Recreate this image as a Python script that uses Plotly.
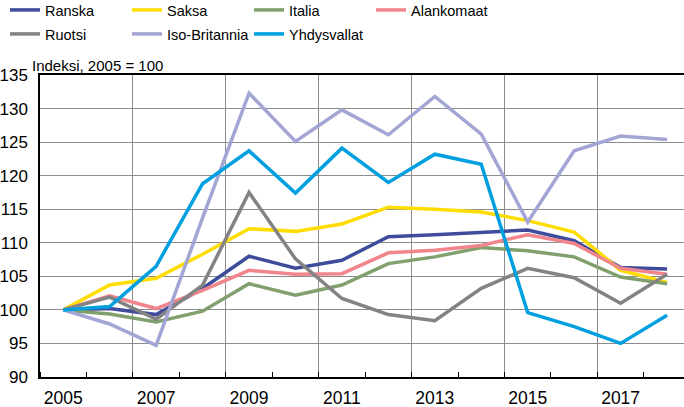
import plotly.graph_objects as go

years = list(range(2005, 2019))
ranska = [100, 100.2, 99.3, 103.2, 108.0, 106.2, 107.4, 110.9, 111.2, 111.6, 111.9, 110.3, 106.3, 106.1]
saksa = [100, 103.7, 104.7, 108.3, 112.1, 111.7, 112.8, 115.3, 115.0, 114.6, 113.3, 111.6, 105.9, 104.1]
italia = [100, 99.4, 98.2, 99.8, 103.9, 102.2, 103.7, 106.9, 107.9, 109.3, 108.8, 107.9, 104.9, 103.9]
alankomaat = [100, 102.1, 100.2, 102.9, 105.9, 105.3, 105.4, 108.5, 108.9, 109.6, 111.2, 109.9, 106.2, 105.3]
ruotsi = [100, 101.9, 98.6, 103.7, 117.5, 107.6, 101.7, 99.3, 98.4, 103.2, 106.2, 104.8, 101.0, 105.3]
iso_britannia = [100, 97.9, 94.7, 113.7, 132.3, 125.1, 129.8, 126.1, 131.8, 126.2, 113.1, 123.7, 125.9, 125.4]
yhdysvallat = [100, 100.5, 106.5, 118.8, 123.7, 117.4, 124.1, 119.0, 123.2, 121.7, 99.6, 97.5, 95.0, 99.2]

series = [
    ("Ranska", ranska, "#3f4c9c", "legend"),
    ("Saksa", saksa, "#ffdd00", "legend"),
    ("Italia", italia, "#82a06e", "legend"),
    ("Alankomaat", alankomaat, "#f0868c", "legend"),
    ("Ruotsi", ruotsi, "#838383", "legend2"),
    ("Iso-Britannia", iso_britannia, "#a3a6d4", "legend2"),
    ("Yhdysvallat", yhdysvallat, "#00a0e0", "legend2"),
]

label_years = [2005, 2007, 2009, 2011, 2013, 2015, 2017]
grid_x = [2006.5, 2008.5, 2010.5, 2012.5, 2014.5, 2016.5]
minor_x = [y + 0.5 for y in range(2004, 2019)]
y_ticks = list(range(90, 136, 5))

REG = "Liberation Sans, Arial, sans-serif"

L, T, PW, PH = 40, 75, 644, 302
B = 407 - T - PH
R = 684 - L - PW


def px(fx):
    return (fx - L) / PW


def py(fy):
    return (T + PH - fy) / PH


fig = go.Figure()
fig.add_trace(go.Scatter(x=[2005], y=[None], xaxis="x2", showlegend=False, hoverinfo="skip"))
for name, vals, col, lg in series:
    fig.add_trace(go.Scatter(x=years, y=vals, name=name, mode="lines",
                             line=dict(color=col, width=3.5), legend=lg))

xr = [2004.5, 2004.5 + PW / 46.45]
leg_common = dict(orientation="h", entrywidth=77, entrywidthmode="pixels",
                  xanchor="left", yanchor="top", bgcolor="rgba(0,0,0,0)",
                  font=dict(family=REG, size=14.5, color="#000"),
                  itemwidth=30, tracegroupgap=0, borderwidth=0)

fig.update_layout(
    width=684, height=407,
    margin=dict(l=L, r=R, t=T, b=B, autoexpand=False),
    paper_bgcolor="white", plot_bgcolor="white",
    showlegend=True,
    legend=dict(x=px(5), y=py(-6), **leg_common),
    legend2=dict(x=px(5), y=py(18), **leg_common),
    xaxis=dict(range=xr, tickmode="array", tickvals=label_years,
               ticktext=[str(v) for v in label_years], showgrid=False,
               ticks="", showline=True, linecolor="#000", linewidth=1.5, mirror=True,
               tickfont=dict(family=REG, size=17.5, color="#000"),
               ticklabelstandoff=4,
               minor=dict(tickmode="array", tickvals=minor_x, ticks="inside",
                          ticklen=5, tickcolor="#000", showgrid=False),
               zeroline=False, automargin=False, fixedrange=True),
    xaxis2=dict(range=xr, overlaying="x", tickmode="array", tickvals=grid_x,
                showgrid=True, gridcolor="#8c8c8c", gridwidth=1,
                showticklabels=False, ticks="", showline=False, zeroline=False),
    yaxis=dict(range=[90, 135], tickmode="array", tickvals=y_ticks,
               showgrid=True, gridcolor="#8c8c8c", gridwidth=1,
               ticks="", showline=True, linecolor="#000", linewidth=1.5,
               tickfont=dict(family=REG, size=17, color="#000"),
               ticklabelstandoff=7, zeroline=False, automargin=False),
    annotations=[dict(text="Indeksi, 2005 = 100", xref="paper", yref="paper",
                      x=px(30), y=py(65), xanchor="left",
                      yanchor="middle", showarrow=False,
                      font=dict(family=REG, size=15, color="#000"))],
)

fig.write_html("out.html", config={"displayModeBar": False},
               post_script="document.body.style.margin='0px';")
